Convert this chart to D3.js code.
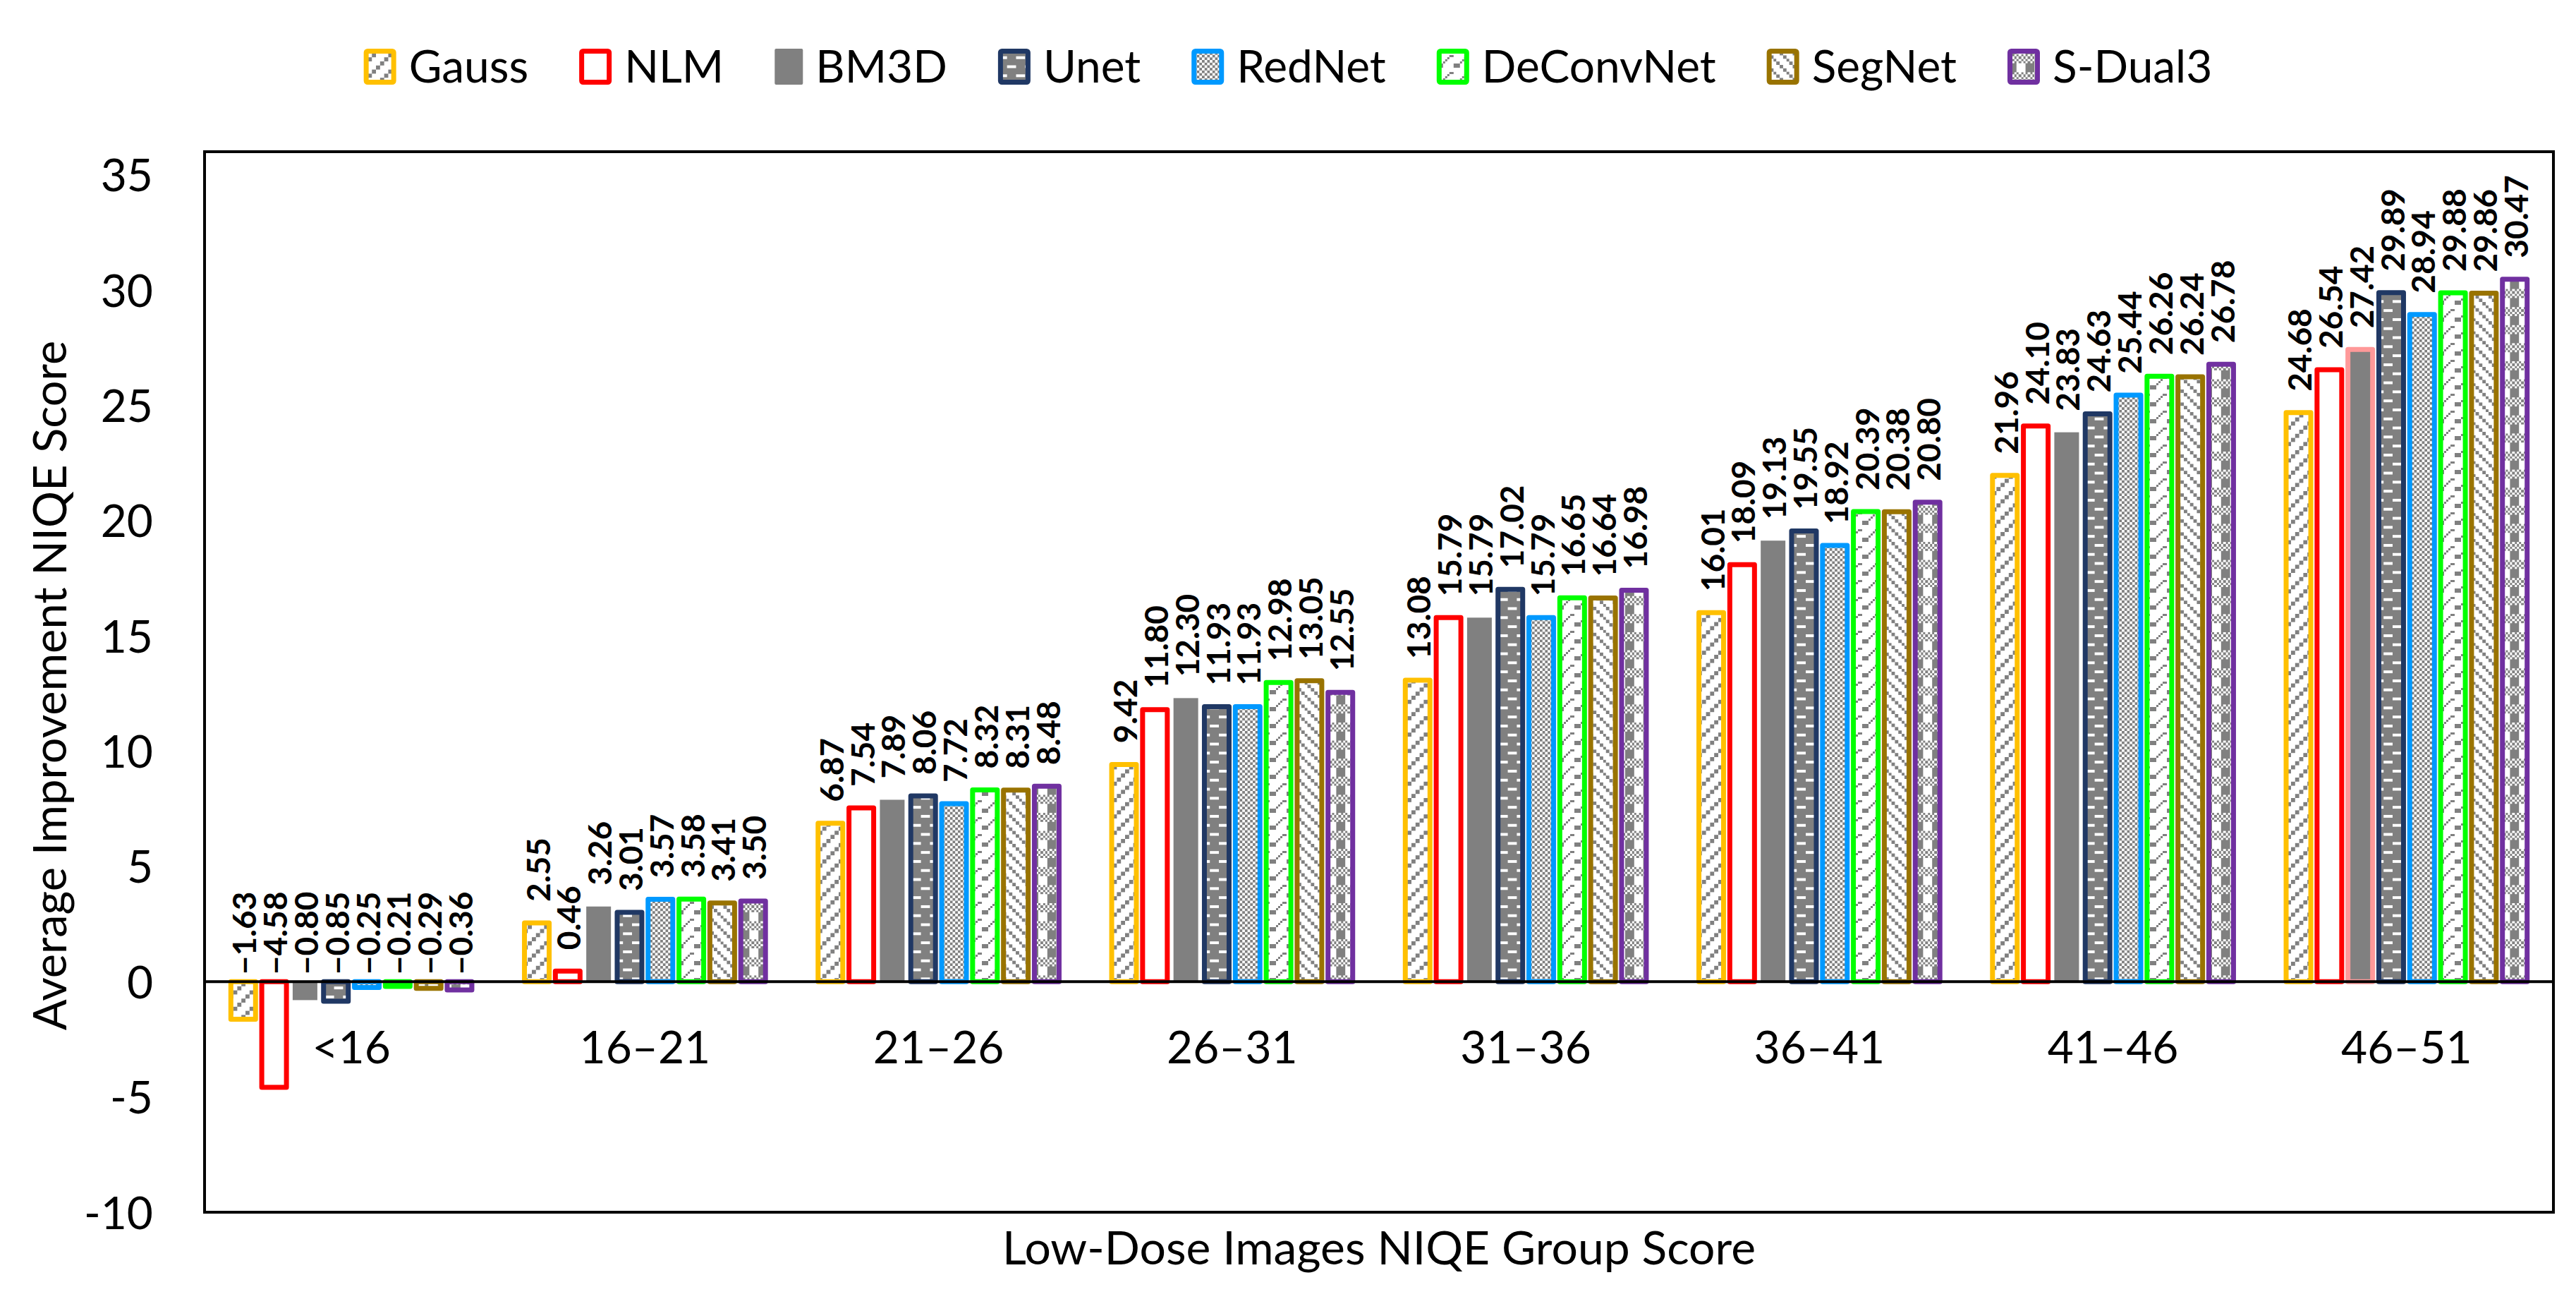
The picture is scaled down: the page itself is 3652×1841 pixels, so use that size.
<!DOCTYPE html>
<html>
<head>
<meta charset="utf-8">
<script src="https://cdn.jsdelivr.net/npm/d3@7"></script>
<style>
  body { margin: 0; background: #fff; }
</style>
</head>
<body>
<div id="chart"></div>
<script>
// ---- data ----
const categories = ["<16", "16–21", "21–26", "26–31", "31–36", "36–41", "41–46", "46–51"]
const seriesNames = ["Gauss", "NLM", "BM3D", "Unet", "RedNet", "DeConvNet", "SegNet", "S-Dual3"]

const gauss = [-1.63, 2.55, 6.87, 9.42, 13.08, 16.01, 21.96, 24.68]
const nlm = [-4.58, 0.46, 7.54, 11.80, 15.79, 18.09, 24.10, 26.54]
const bm3d = [-0.80, 3.26, 7.89, 12.30, 15.79, 19.13, 23.83, 27.42]
const unet = [-0.85, 3.01, 8.06, 11.93, 17.02, 19.55, 24.63, 29.89]
const rednet = [-0.25, 3.57, 7.72, 11.93, 15.79, 18.92, 25.44, 28.94]
const deconvnet = [-0.21, 3.58, 8.32, 12.98, 16.65, 20.39, 26.26, 29.88]
const segnet = [-0.29, 3.41, 8.31, 13.05, 16.64, 20.38, 26.24, 29.86]
const sdual3 = [-0.36, 3.50, 8.48, 12.55, 16.98, 20.80, 26.78, 30.47]

const yTicks = [35, 30, 25, 20, 15, 10, 5, 0, -5, -10]
const xTitle = "Low-Dose Images NIQE Group Score"
const yTitle = "Average Improvement NIQE Score"

const values = [gauss, nlm, bm3d, unet, rednet, deconvnet, segnet, sdual3]

// ---- styles ----
const W = 3652, H = 1841
const plot = { left: 290, right: 3620, top: 215, bottom: 1718 }
const GREY = "#808080"
const borderColor = {
  "Gauss": "#FFC000", "NLM": "#FF0000", "BM3D": "none", "Unet": "#203864",
  "RedNet": "#0099FF", "DeConvNet": "#00FF00", "SegNet": "#997300", "S-Dual3": "#7030A0"
}
// BM3D bar of the last group has a pink outline in the original
const highlight = { series: "BM3D", category: "46–51", color: "#FF9999" }

// small bitmaps (cells painted fg over bg)
const patterns = {
  "Gauss": { u: 5.8, n: 4, bg: "#fff", fg: GREY, cells: [[3, 0], [2, 1], [1, 2], [0, 3]] },
  "NLM": null,
  "BM3D": null,
  "Unet": { u: 3.2, n: 8, bg: GREY, fg: "#fff",
    cells: [[0, 1], [1, 1], [2, 1], [3, 1], [4, 5], [5, 5], [6, 5], [7, 5]] },
  "RedNet": { u: 3.7, n: 2, bg: GREY, fg: "#fff", cells: [[0, 0], [1, 1]] },
  "DeConvNet": { u: 3, n: 8, bg: "#fff", fg: GREY,
    cells: [[0, 6], [1, 6], [2, 6], [3, 5], [4, 4], [5, 3], [6, 2], [7, 2], [0, 7], [1, 7], [2, 7]] },
  "SegNet": { u: 4.6, n: 4, bg: "#fff", fg: GREY, cells: [[0, 0], [1, 1], [2, 2], [3, 3]] },
  "S-Dual3": { u: 3.2, n: 8, bg: GREY, fg: "#fff",
    cells: [[1, 0], [3, 0], [5, 0], [7, 0], [0, 1], [2, 1], [4, 1], [6, 1], [1, 2], [3, 2], [5, 2], [7, 2], [0, 3], [2, 3], [4, 3], [6, 3],
      [4, 4], [5, 4], [6, 4], [7, 4], [4, 5], [5, 5], [6, 5], [7, 5], [4, 6], [5, 6], [6, 6], [7, 6], [4, 7], [5, 7], [6, 7], [7, 7]] }
}

const fillFor = s => s === "NLM" ? "#fff" : s === "BM3D" ? GREY : `url(#pat-${seriesNames.indexOf(s)})`

const svg = d3.select("#chart")
  .append("svg")
  .attr("width", W)
  .attr("height", H)
  .style("font-family", "Lato, sans-serif")

svg.append("rect").attr("width", W).attr("height", H).attr("fill", "#fff")

const defs = svg.append("defs")
seriesNames.forEach((s, i) => {
  const p = patterns[s]
  if (!p) return
  const size = p.u * p.n
  const pat = defs.append("pattern")
    .attr("id", "pat-" + i)
    .attr("patternUnits", "userSpaceOnUse")
    .attr("width", size)
    .attr("height", size)
  pat.append("rect").attr("width", size).attr("height", size).attr("fill", p.bg)
  pat.selectAll("rect.c")
    .data(p.cells)
    .join("rect")
    .attr("class", "c")
    .attr("x", d => d[0] * p.u)
    .attr("y", d => d[1] * p.u)
    .attr("width", p.u)
    .attr("height", p.u)
    .attr("fill", p.fg)
    .attr("shape-rendering", "crispEdges")
})

// scales
const x0 = d3.scaleBand()
  .domain(categories)
  .range([plot.left, plot.right])
  .paddingInner(0.158)
  .paddingOuter(0.079)

const x1 = d3.scaleBand()
  .domain(seriesNames)
  .range([0, x0.bandwidth()])

const y = d3.scaleLinear()
  .domain([-10, 36])
  .range([plot.bottom, plot.top])

const barW = 35
const inset = (x1.bandwidth() - barW) / 2
const fmt = d3.format(".2f")

// y axis labels (no ticks, no line)
const yAxis = svg.append("g")
  .attr("transform", `translate(${plot.left - 73},0)`)
  .call(d3.axisLeft(y).tickValues(yTicks).tickSize(0).tickPadding(0).tickFormat(d => String(d)))
yAxis.select(".domain").remove()
yAxis.selectAll("text")
  .attr("font-size", 64)
  .attr("font-family", "Lato, sans-serif")
  .attr("fill", "#000")
  .attr("dy", "0.36em")

// bars
const rows = categories.flatMap((c, i) => seriesNames.map((s, j) => ({ c, s, v: values[j][i] })))

const bars = svg.append("g")
bars.selectAll("rect")
  .data(rows)
  .join("rect")
  .attr("x", d => x0(d.c) + x1(d.s) + inset)
  .attr("width", barW)
  .attr("y", d => y(Math.max(0, d.v)))
  .attr("height", d => Math.abs(y(d.v) - y(0)))
  .attr("fill", d => fillFor(d.s))
  .attr("stroke", d => (d.s === highlight.series && d.c === highlight.category) ? highlight.color : borderColor[d.s])
  .attr("stroke-width", 7)
  .attr("stroke-linejoin", "round")

// zero line
svg.append("line")
  .attr("x1", plot.left).attr("x2", plot.right)
  .attr("y1", y(0)).attr("y2", y(0))
  .attr("stroke", "#000").attr("stroke-width", 4)

// frame
svg.append("rect")
  .attr("x", plot.left).attr("y", plot.top)
  .attr("width", plot.right - plot.left).attr("height", plot.bottom - plot.top)
  .attr("fill", "none").attr("stroke", "#000").attr("stroke-width", 4)

// data labels
svg.append("g")
  .selectAll("text")
  .data(rows)
  .join("text")
  .attr("transform", d => `translate(${x0(d.c) + x1(d.s) + x1.bandwidth() / 2 + 2},${d.v >= 0 ? y(d.v) - 30 : y(0) - 10}) rotate(-90)`)
  .attr("dy", "0.36em")
  .attr("font-size", 46)
  .attr("font-weight", "bold")
  .attr("fill", "#000")
  .text(d => fmt(d.v))

// category labels
svg.append("g")
  .selectAll("text")
  .data(categories)
  .join("text")
  .attr("x", c => x0(c) + x0.bandwidth() / 2)
  .attr("y", 1507)
  .attr("text-anchor", "middle")
  .attr("font-size", 64)
  .text(c => c)

// axis titles
svg.append("text")
  .attr("x", (plot.left + plot.right) / 2)
  .attr("y", 1792)
  .attr("text-anchor", "middle")
  .attr("font-size", 66)
  .text(xTitle)

svg.append("text")
  .attr("transform", `translate(94,${(plot.top + plot.bottom) / 2 + 5}) rotate(-90)`)
  .attr("text-anchor", "middle")
  .attr("font-size", 65)
  .text(yTitle)

// legend
const legend = svg.append("g")
const items = legend.selectAll("g")
  .data(seriesNames)
  .join("g")
items.append("rect")
  .attr("x", s => s === "BM3D" ? 0 : 3.5)
  .attr("y", s => s === "BM3D" ? 69 : 72.5)
  .attr("width", s => s === "BM3D" ? 40 : 39)
  .attr("height", s => s === "BM3D" ? 51 : 44)
  .attr("rx", 2)
  .attr("fill", s => fillFor(s))
  .attr("stroke", s => borderColor[s])
  .attr("stroke-width", 7)
  .attr("stroke-linejoin", "round")
items.append("text")
  .attr("x", s => (s === "BM3D" ? 40 : 46) + 18)
  .attr("y", 117)
  .attr("font-size", 64)
  .text(s => s)

let cursor = 0
const offsets = []
items.each(function (s) {
  const sw = s === "BM3D" ? 40 : 46
  const tw = this.querySelector("text").getComputedTextLength()
  offsets.push(cursor)
  cursor += sw + 18 + tw + 72
})
const total = cursor - 72
const start = W / 2 - total / 2
items.attr("transform", (s, i) => `translate(${start + offsets[i]},0)`)
</script>
</body>
</html>
